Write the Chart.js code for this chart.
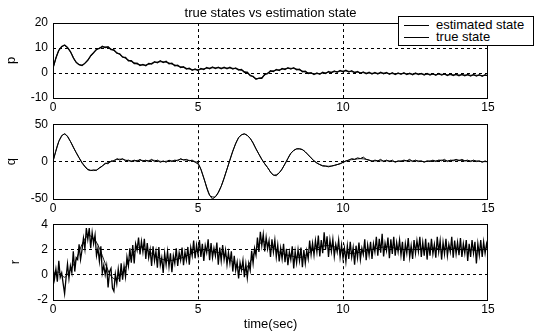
<!DOCTYPE html>
<html>
<head>
<meta charset="utf-8">
<script src="https://cdn.jsdelivr.net/npm/chart.js@4.4.0/dist/chart.umd.min.js"></script>
<style>
html, body { margin: 0; padding: 0; background: #fff; }
#wrap { position: relative; width: 535px; height: 332px; overflow: hidden; font-family: "Liberation Sans", Arial, sans-serif; }
#wrap canvas { position: absolute; left: 0; }
#legend { position: absolute; left: 398px; top: 16px; width: 134px; height: 28px; border: 1px solid #000; background: #fff; font-size: 13px; color: #000; }
#legend .row { position: absolute; left: 0; height: 14px; line-height: 14px; }
#legend .ln { position: absolute; left: 5px; top: 7px; width: 25px; border-top: 1px solid #000; }
#legend .tx { position: absolute; left: 37px; top: 0; white-space: nowrap; }
</style>
</head>
<body>
<div id="wrap">
  <canvas id="chartP" width="535" height="112" style="top:0"></canvas>
  <canvas id="chartQ" width="535" height="100" style="top:112px"></canvas>
  <canvas id="chartR" width="535" height="120" style="top:212px"></canvas>
  <div id="legend">
    <div class="row" style="top:1px"><span class="ln"></span><span class="tx">estimated state</span></div>
    <div class="row" style="top:13px"><span class="ln"></span><span class="tx">true state</span></div>
  </div>
</div>
<script>
// ---- 数据 ----
const TIME_MAX = 15;
const TRUE_STEP = 0.2;    // true state 采样间隔 (s)
const PQ_EST_STEP = 0.1;  // p, q 估计值采样间隔
const R_EST_STEP = 0.05;  // r 估计值采样间隔

const xTicks = [0, 5, 10, 15];
const pTicks = [-10, 0, 10, 20];
const qTicks = [-50, 0, 50];
const rTicks = [-2, 0, 2, 4];

const pTrue = [
  2, 9, 11, 8.5, 4.2, 3.1, 5.2, 8.2, 10, 10.4,
  9.6, 8.2, 6.6, 5.2, 4.1, 3.3, 3.2, 3.9, 4.4, 4.5,
  4.0, 3.2, 2.5, 1.9, 1.4, 1.3, 1.7, 2.0, 2.1, 2.0,
  2.0, 1.9, 1.5, 0.6, -0.8, -2.2, -1.8, 0.0, 0.9, 1.3,
  1.7, 1.9, 1.6, 0.8, 0.1, -0.3, -0.2, 0.1, 0.4, 0.6,
  0.8, 0.7, 0.4, 0.2, 0.0, -0.1, -0.1, 0.0, -0.2, -0.3,
  -0.2, -0.3, -0.4, -0.3, -0.5, -0.5, -0.6, -0.5, -0.7, -0.7,
  -0.8, -0.8, -0.9, -0.9, -1.0, -1.0
];
const pEst = [
  2.0, 6.0, 9.1, 10.6, 11.2, 10.2, 8.6, 6.1, 4.3, 3.3,
  3.0, 3.9, 5.1, 6.9, 8.1, 9.5, 9.8, 10.7, 10.2, 10.5,
  9.4, 9.3, 7.9, 7.7, 6.3, 6.2, 4.9, 4.9, 3.8, 3.9,
  3.0, 3.4, 2.9, 3.8, 3.6, 4.5, 4.1, 4.9, 4.2, 4.7,
  3.7, 3.9, 2.9, 3.1, 2.2, 2.5, 1.6, 1.9, 1.1, 1.6,
  1.0, 1.8, 1.4, 2.2, 1.7, 2.4, 1.8, 2.3, 1.7, 2.3,
  1.7, 2.3, 1.6, 2.0, 1.2, 1.4, 0.3, 0.3, -1.1, -1.3,
  -2.5, -2.1, -2.1, -0.5, -0.3, 0.9, 0.6, 1.4, 1.0, 1.8,
  1.4, 2.1, 1.6, 2.1, 1.3, 1.5, 0.5, 0.7, -0.2, 0.1,
  -0.6, 0.0, -0.5, 0.3, -0.2, 0.6, 0.1, 0.8, 0.3, 1.0,
  0.5, 1.1, 0.4, 0.9, 0.1, 0.6, -0.1, 0.4, -0.3, 0.3,
  -0.4, 0.2, -0.4, 0.3, -0.3, 0.2, -0.5, 0.1, -0.6, 0.0,
  -0.5, 0.1, -0.6, -0.1, -0.7, 0.0, -0.6, -0.2, -0.8, -0.2,
  -0.8, -0.3, -0.9, -0.2, -0.8, -0.4, -1.0, -0.4, -1.0, -0.5,
  -1.1, -0.5, -1.1, -0.6, -1.2, -0.6, -1.2, -0.7, -1.3, -0.7,
  -1.2
];

const qTrue = [
  0, 27, 37, 27, 12, -1, -10, -12, -9, -3,
  0, 3, 3, 1, 1, 2, 1, 2, 1, 0,
  1, 1, 3, 2, 1, -2, -22, -45, -47, -33,
  -10, 14, 32, 37, 31, 17, 3, -8, -18, -15,
  -3, 11, 17, 16, 9, 1, -4, -6, -6, -4,
  -1, 2, 3, 4, 3, 1, 1, 1, 1, 0,
  1, 1, 1, 1, 0, 1, 1, 2, 1, 2,
  2, 1, 1, 1, 0, 0
];
const qEst = [
  1, 14, 27, 35, 37, 34, 27, 19, 12, 5,
  -2, -7, -11, -12, -11, -12, -8, -6, -2, -3,
  1, 0, 4, 2, 4, 1, 2, 0, 2, 0,
  3, 0, 2, 0, 3, 0, 2, -1, 1, -1,
  2, 0, 2, 1, 4, 2, 3, 1, 2, -1,
  -3, -10, -22, -34, -45, -50, -47, -41, -33, -22,
  -10, 2, 14, 24, 32, 36, 37, 35, 31, 25,
  17, 10, 3, -3, -8, -14, -18, -19, -15, -10,
  -3, 4, 11, 15, 17, 17, 16, 13, 9, 5,
  1, -2, -4, -6, -6, -7, -6, -5, -4, -3,
  -1, 1, 2, 4, 3, 5, 4, 6, 3, 2,
  0, 2, 1, 3, 0, 2, 0, 2, -1, 1,
  0, 2, 1, 3, 0, 2, 0, 1, -1, 1,
  0, 2, 0, 2, 1, 3, 0, 2, 1, 3,
  1, 3, 1, 2, 0, 2, 0, 1, -1, 1,
  -1
];

const rTrue = [
  0.1, 0.2, -0.2, 0.4, 1.2, 2.4, 3.1, 2.9, 2.1, 0.9,
  -0.1, -0.4, 0.2, 1.0, 1.8, 2.2, 2.0, 1.7, 1.4, 1.2,
  1.1, 1.2, 1.3, 1.5, 1.7, 1.9, 2.0, 1.9, 1.8, 1.7,
  1.4, 1.0, 0.6, 0.4, 1.0, 2.0, 2.6, 2.5, 2.1, 1.8,
  1.6, 1.5, 1.4, 1.4, 1.7, 2.0, 2.2, 2.3, 2.3, 2.1,
  1.9, 1.7, 1.7, 1.8, 1.9, 2.0, 2.1, 2.2, 2.2, 2.1,
  2.0, 2.0, 2.0, 2.0, 2.1, 2.1, 2.1, 2.0, 2.1, 2.1,
  2.0, 2.0, 2.0, 1.9, 2.0, 2.0
];
const rEst = [
  0.7, -0.35, 0.45, -0.55, 1.1, -0.2, 0.15, -0.7, -1.5, -0.25, 0.85, -0.3, 0.7, 0.15, 1.85, 0.25, 1.35, 1.2, 2.4, 1.2,
  1.95, 2.9, 2.05, 3.7, 2.8, 3.7, 2.1, 3.35, 2.45, 3.15, 1.5, 2.1, 1.05, 2.25, 0.15, 0.75, 0.0, 0.7, -1.0, 0.25,
  0.5, -1.05, -1.3, 0.05, -0.7, 0.45, -0.55, 0.9, -0.4, 0.7, -0.15, 1.4, 0.7, 2.1, 0.95, 2.35, 0.9, 2.45, 1.95, 2.95,
  1.6, 2.65, 1.8, 2.85, 1.25, 2.5, 1.35, 2.0, 0.7, 2.25, 1.1, 1.85, 0.55, 2.2, 0.75, 1.35, 0.15, 1.7, 0.8, 1.85,
  0.65, 1.7, 0.2, 1.5, 0.9, 2.1, 0.7, 1.75, 1.15, 2.15, 0.75, 1.8, 1.15, 2.2, 0.8, 2.15, 1.5, 2.7, 1.3, 2.35,
  1.6, 2.75, 1.4, 2.45, 1.1, 2.3, 1.75, 2.8, 1.15, 2.5, 1.35, 2.1, 1.5, 2.55, 0.8, 2.15, 1.1, 2.35, 1.2, 1.95,
  0.8, 1.75, 0.9, 1.85, 0.25, 1.5, 0.35, 1.0, -0.3, 0.95, 0.35, 1.15, -0.2, 0.85, -0.25, 0.9, 0.35, 1.9, 0.9, 2.1,
  1.55, 2.95, 1.8, 3.4, 2.3, 3.2, 1.85, 2.95, 2.05, 2.7, 1.4, 2.8, 1.8, 2.75, 1.4, 2.35, 1.05, 2.1, 1.25, 2.45,
  1.0, 2.05, 0.75, 1.8, 1.2, 2.25, 0.5, 1.85, 0.95, 2.0, 1.1, 2.15, 0.6, 1.95, 0.9, 1.9, 1.25, 2.7, 1.6, 2.5,
  1.55, 2.7, 1.8, 3.1, 1.45, 2.75, 1.7, 3.35, 2.0, 3.05, 1.4, 2.75, 1.85, 2.8, 1.45, 2.4, 1.8, 2.75, 1.4, 2.35,
  1.3, 2.1, 1.05, 2.3, 1.25, 2.6, 1.4, 2.15, 0.8, 2.3, 1.35, 2.55, 1.2, 2.1, 1.6, 2.8, 1.15, 2.35, 1.55, 2.6,
  1.25, 2.45, 1.8, 3.0, 1.5, 2.85, 1.75, 3.25, 1.45, 2.5, 1.9, 2.95, 1.3, 2.8, 1.65, 3.0, 1.5, 2.55, 1.8, 2.75,
  1.55, 2.6, 1.1, 2.45, 1.7, 2.9, 1.4, 2.3, 1.25, 2.75, 1.7, 2.7, 1.85, 3.0, 1.4, 2.55, 1.5, 2.85, 1.2, 2.55,
  1.5, 2.85, 1.65, 2.4, 1.35, 3.0, 1.8, 2.7, 1.2, 2.55, 1.65, 2.85, 1.5, 2.4, 1.8, 3.0, 1.35, 2.7, 1.65, 2.55,
  1.55, 2.9, 1.4, 2.45, 1.7, 2.75, 1.1, 2.45, 1.4, 2.75, 1.7, 2.6, 0.9, 2.45, 1.55, 2.75, 1.4, 2.6, 1.7, 2.45, 1.85
];

const FONT = '"Liberation Sans", Arial, sans-serif';

// 数组 + 采样间隔 -> {x, y}
function toPoints(values, step) {
  return values.map((v, i) => ({ x: +(i * step).toFixed(2), y: v }));
}

// 只画内部网格线，边界由 box 插件画
function innerGrid(ticks) {
  return ctx => {
    const v = ctx.tick ? ctx.tick.value : null;
    return (v === ticks[0] || v === ticks[ticks.length - 1]) ? 'rgba(0,0,0,0)' : '#000';
  };
}

// 画坐标区外框 (MATLAB box on)
const boxPlugin = {
  id: 'box',
  afterDraw(chart) {
    const { ctx, chartArea: a } = chart;
    ctx.save();
    ctx.strokeStyle = '#000';
    ctx.lineWidth = 1;
    ctx.strokeRect(Math.round(a.left) + 0.5, Math.round(a.top) + 0.5,
      Math.round(a.right - a.left) - 1, Math.round(a.bottom - a.top));
    ctx.restore();
  }
};

function makePanel(id, est, estStep, tru, yTicks, yLabel, cfg) {
  return new Chart(document.getElementById(id), {
    type: 'line',
    data: {
      datasets: [
        { label: 'estimated state', data: toPoints(est, estStep), borderColor: '#000', borderWidth: cfg.estW || 1, pointRadius: 0, tension: 0 },
        { label: 'true state', data: toPoints(tru, TRUE_STEP), borderColor: '#111', borderWidth: 1, pointRadius: 0, tension: 0.3 }
      ]
    },
    options: {
      responsive: false,
      animation: false,
      events: [],
      layout: { padding: { left: 0, right: 47, top: cfg.padTop, bottom: 0 } },
      plugins: {
        legend: { display: false },
        tooltip: { enabled: false },
        title: cfg.title || { display: false }
      },
      scales: {
        x: {
          type: 'linear', min: 0, max: TIME_MAX,
          afterBuildTicks: s => { s.ticks = xTicks.map(v => ({ value: v })); },
          afterFit: s => { s.height = cfg.xH; },
          grid: { color: innerGrid(xTicks), lineWidth: 1, drawTicks: false },
          border: { display: false, dash: [3, 3] },
          ticks: { color: '#000', font: { size: 12, family: FONT }, padding: 2, maxRotation: 0, autoSkip: false },
          title: cfg.xTitle || { display: false }
        },
        y: {
          min: yTicks[0], max: yTicks[yTicks.length - 1],
          afterBuildTicks: s => { s.ticks = yTicks.map(v => ({ value: v })); },
          afterFit: s => { s.width = 53; },
          grid: { color: innerGrid(yTicks), lineWidth: 1, drawTicks: false },
          border: { display: false, dash: [3, 3] },
          ticks: { color: '#000', font: { size: 12, family: FONT }, padding: 5, autoSkip: false },
          title: { display: true, text: yLabel, color: '#000', font: { size: 13, family: FONT }, padding: { top: cfg.yPad, bottom: 0 } }
        }
      }
    },
    plugins: [boxPlugin]
  });
}

makePanel('chartP', pEst, PQ_EST_STEP, pTrue, pTicks, 'p', {
  padTop: 0, xH: 14, yPad: 4, estW: 1.3,
  title: {
    display: true, text: 'true states vs estimation state', color: '#000', fullSize: false,
    font: { size: 13, family: FONT, weight: 'normal' }, padding: { top: 5.5, bottom: 1.9 }
  }
});
makePanel('chartQ', qEst, PQ_EST_STEP, qTrue, qTicks, 'q', { padTop: 12, xH: 13, yPad: 4 });
makePanel('chartR', rEst, R_EST_STEP, rTrue, rTicks, 'r', {
  padTop: 12, xH: 32, yPad: 8, estW: 1.3,
  xTitle: { display: true, text: 'time(sec)', color: '#000', font: { size: 13, family: FONT }, padding: { top: 0, bottom: 0 } }
});
</script>
</body>
</html>
